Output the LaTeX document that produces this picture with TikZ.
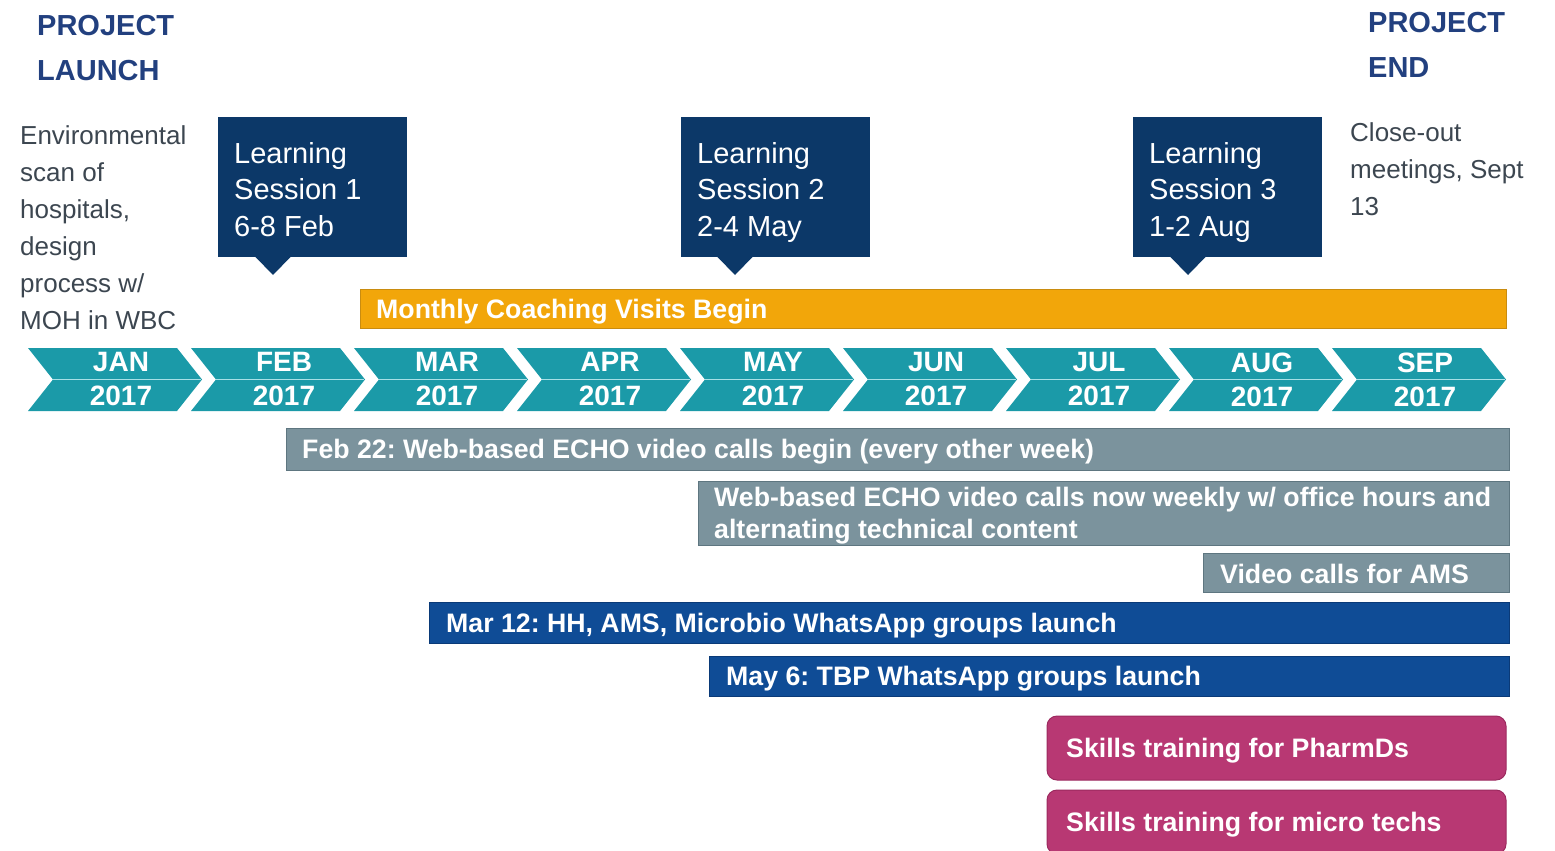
\documentclass[tikz,border=0pt]{standalone}
\usepackage{fontspec}
\setmainfont{Liberation Sans}
\usetikzlibrary{calc}
\frenchspacing

\definecolor{headblue}{HTML}{22407F}
\definecolor{notegray}{HTML}{3C4650}
\definecolor{sessblue}{HTML}{0C3868}
\definecolor{coachorange}{HTML}{F2A60A}
\definecolor{coachedge}{HTML}{C98C10}
\definecolor{monthteal}{HTML}{1B9AA8}
\definecolor{monthline}{HTML}{A8E0E6}
\definecolor{callgray}{HTML}{7B939D}
\definecolor{calledge}{HTML}{5E7680}
\definecolor{chatblue}{HTML}{0F4C96}
\definecolor{chatedge}{HTML}{0A3A78}
\definecolor{skillpink}{HTML}{B83873}
\definecolor{skilledge}{HTML}{9C2A5F}

\begin{document}
\begin{tikzpicture}[x=1pt,y=-1pt,
  heading/.style={anchor=north west, inner sep=0pt, align=left, text=headblue,
    font=\bfseries\fontsize{29}{45}\selectfont},
  note/.style={anchor=north west, inner sep=0pt, align=left, text=notegray,
    font=\fontsize{26}{37}\selectfont},
  session/.style={anchor=north west, fill=sessblue, inner sep=0pt, outer sep=0pt,
    minimum width=189pt, minimum height=140pt},
  sessiontext/.style={anchor=north west, inner sep=0pt, align=left, text=white,
    font=\fontsize{29}{36.5}\selectfont},
  month/.style={align=center, inner sep=0pt, text=white,
    font=\bfseries\fontsize{28}{34}\selectfont},
  bar/.style={anchor=north west, draw, line width=1pt, inner sep=0pt, outer sep=0pt},
  barlabel/.style={anchor=west, inner sep=0pt, align=left, text=white, yshift=-3pt,
    font=\bfseries\fontsize{26.7}{32}\selectfont},
]
\useasboundingbox (0,0) rectangle (1555,851);
\clip (0,0) rectangle (1555,851);

% milestones at both ends
\node[heading] (launch) at (37,15) {PROJECT\\LAUNCH};
\node[heading] (finish) at (1368,12) {PROJECT\\END};
\node[note] (scan) at (20,125) {Environmental\\scan of\\hospitals,\\design\\process w/\\MOH in WBC};
\node[note] (closeout) at (1350,122) {Close-out\\meetings, Sept\\13};

% learning sessions with pointers
\foreach \s/\x/\d/\n/\when in {ls1/218/55/1/6-8 Feb, ls2/681/54/2/2-4 May, ls3/1133/55/3/1-2 Aug}{
  \node[session] (\s) at (\x,117) {};
  \fill[sessblue] ($(\s.south west)+(\d-18,-0.5)$) -- ++(36,0) -- ++(-18,18.5) -- cycle;
  \node[sessiontext] (\s t) at ([xshift=16pt,yshift=-25pt]\s.north west) {Learning\\Session \n\\\when};
}

% coaching visits
\node[bar, fill=coachorange, draw=coachedge, minimum width=1146pt, minimum height=39pt] (coach) at (360,289) {};
\node[barlabel] (coacht) at ([xshift=16pt]coach.west) {Monthly Coaching Visits Begin};

% month chevrons
\foreach \m [count=\i from 0, evaluate=\i as \x using 28+163*\i] in {JAN,FEB,MAR,APR,MAY,JUN,JUL,AUG,SEP}{
  \fill[monthteal] (\x,348) -- ++(149,0) -- ++(25,31.5) -- ++(-25,31.5) -- ++(-149,0) -- ++(25,-31.5) -- cycle;
  \draw[monthline, line width=1.8pt] (\x+25,379.5) -- (\x+173,379.5);
  \node[month] (m\i) at (\x+93,379.5) {\m\\2017};
}

% video calls
\node[bar, fill=callgray, draw=calledge, minimum width=1223pt, minimum height=42pt] (echo) at (286,428) {};
\node[barlabel] (echot) at ([xshift=16pt]echo.west) {Feb 22: Web-based ECHO video calls begin (every other week)};
\node[bar, fill=callgray, draw=calledge, minimum width=811pt, minimum height=64pt] (weekly) at (698,481) {};
\node[barlabel] (weeklyt) at ([xshift=16pt]weekly.west) {Web-based ECHO video calls now weekly w/ office hours and\\alternating technical content};
\node[bar, fill=callgray, draw=calledge, minimum width=306pt, minimum height=39pt] (ams) at (1203,553) {};
\node[barlabel] (amst) at ([xshift=17pt,yshift=2pt]ams.west) {Video calls for AMS};

% WhatsApp groups
\node[bar, fill=chatblue, draw=chatedge, minimum width=1080pt, minimum height=41pt] (wa1) at (429,602) {};
\node[barlabel] (wa1t) at ([xshift=17pt]wa1.west) {Mar 12: HH, AMS, Microbio WhatsApp groups launch};
\node[bar, fill=chatblue, draw=chatedge, minimum width=800pt, minimum height=40pt] (wa2) at (709,656) {};
\node[barlabel] (wa2t) at ([xshift=17pt]wa2.west) {May 6: TBP WhatsApp groups launch};

% skills training
\node[bar, fill=skillpink, draw=skilledge, rounded corners=10pt, minimum width=459pt, minimum height=64pt] (pharm) at (1047,716) {};
\node[barlabel] (pharmt) at ([xshift=19pt]pharm.west) {Skills training for PharmDs};
\node[bar, fill=skillpink, draw=skilledge, rounded corners=10pt, minimum width=459pt, minimum height=64pt] (micro) at (1047,790) {};
\node[barlabel] (microt) at ([xshift=19pt]micro.west) {Skills training for micro techs};
\end{tikzpicture}
\end{document}
